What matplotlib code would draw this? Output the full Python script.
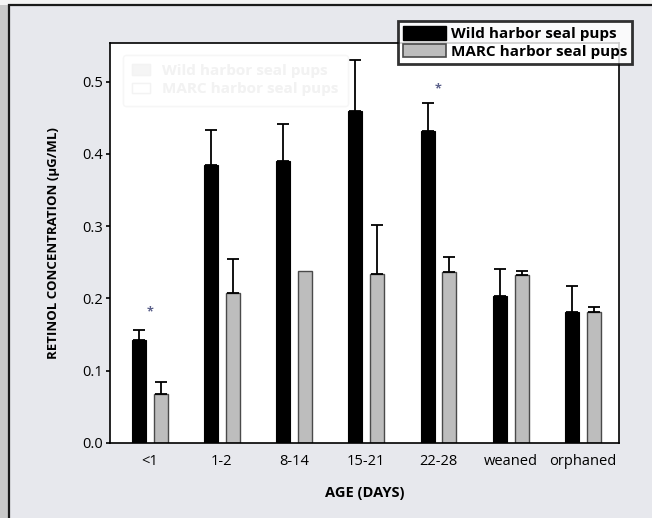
import numpy as np
import matplotlib
matplotlib.use("Agg")
from matplotlib import pyplot as plt
from matplotlib.patches import Rectangle, Patch

# data
ages = ["<1", "1-2", "8-14", "15-21", "22-28", "weaned", "orphaned"]
wild = [0.142, 0.385, 0.390, 0.460, 0.432, 0.203, 0.181]
wild_err = [0.014, 0.048, 0.052, 0.070, 0.038, 0.038, 0.036]
marc = [0.068, 0.208, 0.238, 0.234, 0.236, 0.232, 0.181]
marc_err = [0.017, 0.047, 0.0, 0.067, 0.021, 0.006, 0.007]
star_groups = [0, 4]
star_y = [0.181, 0.490]

plt.rcParams["font.family"] = ["Open Sans", "DejaVu Sans"]

fig = plt.figure(figsize=(6.52, 5.18), dpi=100, facecolor="#e7e8ed")

# outer frame and left shadow
fig.patches.append(Rectangle((0, 0), 9 / 652, 1, transform=fig.transFigure,
                             facecolor="#c9c9c9", edgecolor="none", zorder=0))
fig.patches.append(Rectangle((0, 1 - 5 / 518), 1, 5 / 518, transform=fig.transFigure,
                             facecolor="#f4f4f4", edgecolor="none", zorder=0))
fig.patches.append(Rectangle((9 / 652, -0.05), 1.0, 1 - 5 / 518 + 0.05, transform=fig.transFigure,
                             facecolor="none", edgecolor="#1a1a1a", linewidth=1.6, zorder=1))

ax = fig.add_axes([110 / 652, 1 - 443 / 518, 509 / 652, 400 / 518])
ax.set_facecolor("white")

x = np.arange(len(ages))
off = 0.152
w = 0.194
ax.bar(x - off, wild, width=w, color="black", edgecolor="black", linewidth=0.8, zorder=2)
ax.bar(x + off, marc, width=w, color="#bdbdbd", edgecolor="#4a4a4a", linewidth=1.0, zorder=2)

# one-sided error bars
for i in range(len(ages)):
    if wild_err[i] > 0:
        ax.errorbar(x[i] - off, wild[i], yerr=[[0], [wild_err[i]]], fmt="none",
                    ecolor="black", elinewidth=1.3, capsize=4.5, capthick=1.3, zorder=3)
    if marc_err[i] > 0:
        ax.errorbar(x[i] + off, marc[i], yerr=[[0], [marc_err[i]]], fmt="none",
                    ecolor="black", elinewidth=1.3, capsize=4.5, capthick=1.3, zorder=3)

for g, sy in zip(star_groups, star_y):
    ax.text(x[g], sy, "*", ha="center", va="center", fontsize=9,
            color="#5a5f8a", fontweight="bold")

ax.set_xlim(-0.55, 6.5)
ax.set_ylim(0, 0.5535)
ax.set_yticks([0.0, 0.1, 0.2, 0.3, 0.4, 0.5])
ax.set_yticklabels(["0.0", "0.1", "0.2", "0.3", "0.4", "0.5"])
ax.set_xticks(x)
ax.set_xticklabels(ages)
ax.tick_params(axis="x", length=0, labelsize=10.5, pad=8)
ax.tick_params(axis="y", length=3, width=1.2, labelsize=10.5, pad=2)
for s in ax.spines.values():
    s.set_linewidth(1.2)
    s.set_color("black")

ax.set_xlabel("AGE (DAYS)", fontsize=10.5, fontweight="bold", labelpad=12)
ax.set_ylabel("RETINOL CONCENTRATION (\u00b5G/ML)", fontsize=9.5, fontweight="bold", labelpad=16)

# faint ghost legend inside the plot
ghost = [Patch(facecolor="#f5f5f5", edgecolor="#f3f3f3"),
         Patch(facecolor="white", edgecolor="#f3f3f3")]
gl = ax.legend(ghost, ["Wild harbor seal pups", "MARC harbor seal pups"],
               loc="upper left", bbox_to_anchor=(0.01, 0.99), frameon=True,
               prop={"weight": "bold", "size": 11}, handlelength=1.2,
               borderpad=0.6, labelspacing=0.3)
gl.get_frame().set_edgecolor("#f6f6f6")
gl.get_frame().set_facecolor("white")
for t in gl.get_texts():
    t.set_color("#f2f2f2")
ax.add_artist(gl)

# real legend on top right, outside the plot
handles = [Patch(facecolor="black", edgecolor="black"),
           Patch(facecolor="#bdbdbd", edgecolor="#4a4a4a", linewidth=1.2)]
leg = fig.legend(handles, ["Wild harbor seal pups", "MARC harbor seal pups"],
                 loc="upper left", bbox_to_anchor=(398 / 652, 1 - 21 / 518),
                 frameon=True, fancybox=False, prop={"weight": "bold", "size": 11},
                 handlelength=2.8, handleheight=1.0, handletextpad=0.3,
                 borderpad=0.35, labelspacing=0.15, borderaxespad=0)
leg.get_frame().set_edgecolor("black")
leg.get_frame().set_linewidth(2.0)
leg.get_frame().set_facecolor("white")
leg.set_zorder(5)

fig.savefig("out.png", dpi=100, facecolor=fig.get_facecolor())
